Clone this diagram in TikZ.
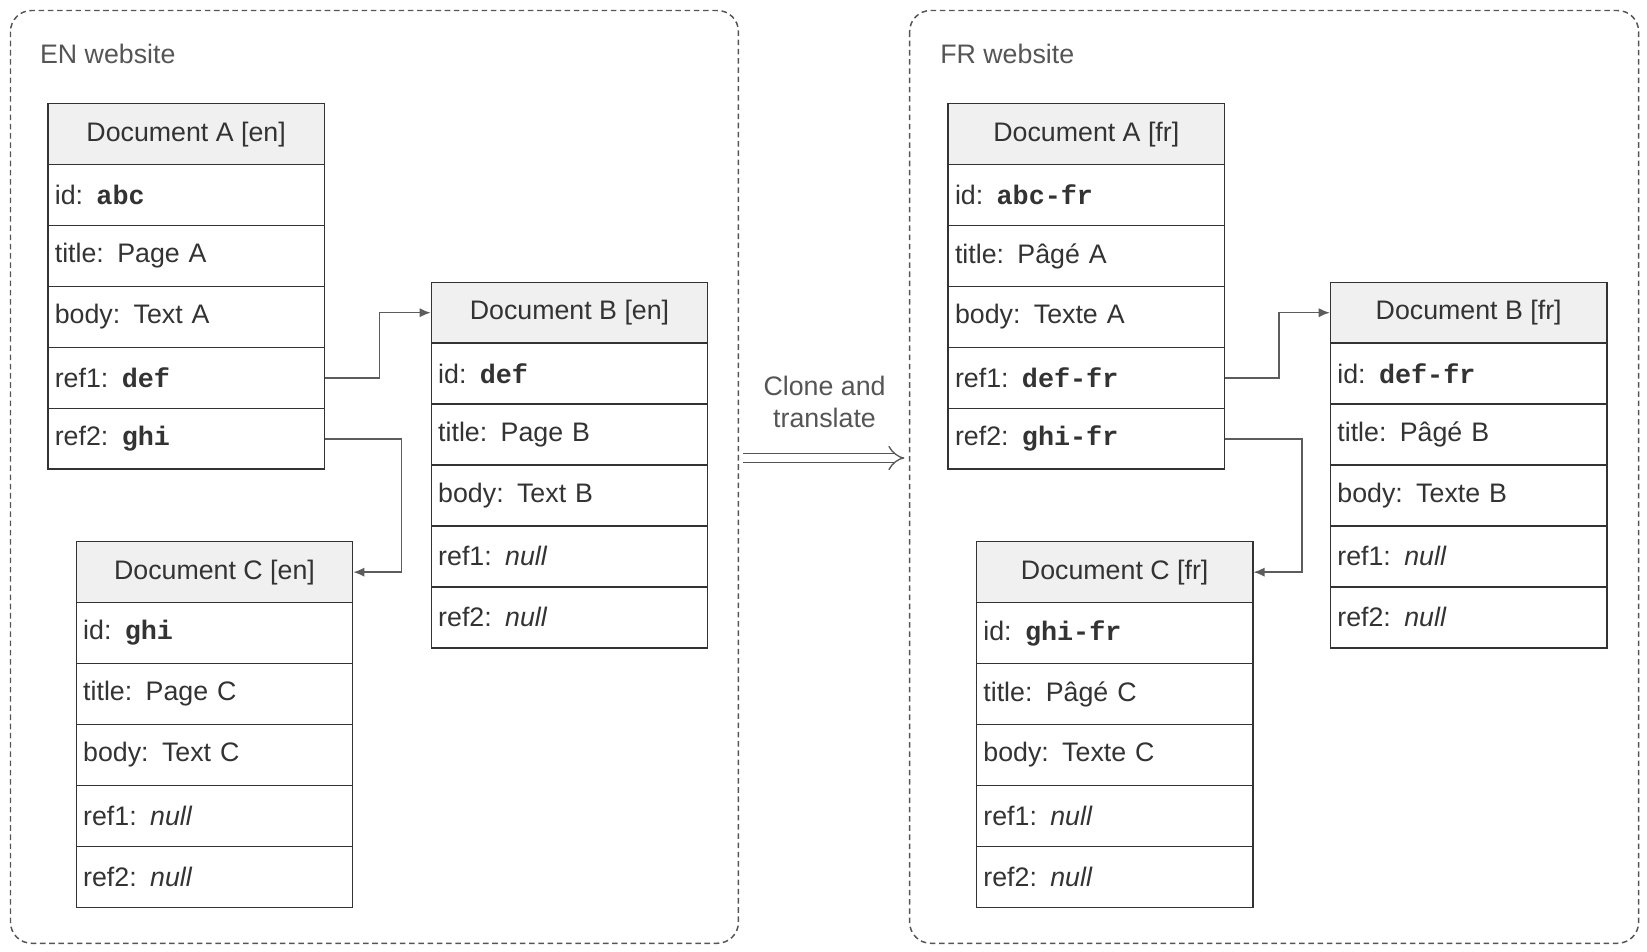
\documentclass[tikz,border=0pt]{standalone}
\usepackage{fontspec}
\setmainfont{Liberation Sans}
\newfontfamily\codefont{Liberation Mono}
\usetikzlibrary{positioning,arrows.meta}

\definecolor{ink}{HTML}{333333}
\definecolor{frame}{HTML}{555555}
\newcommand\code[1]{{\codefont\bfseries #1}}
\newcommand\nul{\textit{null}}

% one document: name, x, y (top left), title, five rows
\newcommand\docbox[5]{%
    \node[head] (#1) at (#2,#3) {#4};
    \foreach \t [count=\i] in {#5} {
        \node[row] (#1-\i) at (#2,{#3-1.16*\i}) {\t};
    }
}

\begin{document}
\begin{tikzpicture}[
    x=1cm,y=1cm,
    every node/.style={font=\fontsize{14.5}{17}\selectfont,text=ink},
    site/.style={draw=frame,densely dashed,line width=0.8pt,rounded corners=0.4cm},
    head/.style={rectangle,draw=ink,fill=gray!12,line width=0.8pt,anchor=north west,
        minimum width=5.26cm,minimum height=1.16cm,inner sep=0pt},
    row/.style={head,fill=white,text width=5.0cm,align=left},
    link/.style={draw=ink!80,line width=0.8pt,-{Latex[length=6pt,width=5pt]}},
]
\useasboundingbox (0,0) rectangle (31.36,-18.12);

%% EN website
\draw[site] (0.2,-0.2) rectangle (14.06,-17.96);
\node[anchor=west,text=frame] (en) at (0.64,-1.02) {EN website};
\docbox{A-en}{0.9}{-1.96}{Document A [en]}{{id: \code{abc}},{title: Page A},{body: Text A},{ref1: \code{def}},{ref2: \code{ghi}}}
\docbox{B-en}{8.2}{-5.36}{Document B [en]}{{id: \code{def}},{title: Page B},{body: Text B},{ref1: \nul},{ref2: \nul}}
\docbox{C-en}{1.44}{-10.3}{Document C [en]}{{id: \code{ghi}},{title: Page C},{body: Text C},{ref1: \nul},{ref2: \nul}}
\draw[link] (A-en-4.east) -- ++(1.04,0) |- (B-en.west);
\draw[link] (A-en-5.east) -- ++(1.46,0) |- (C-en.east);

%% FR website
\draw[site] (17.32,-0.2) rectangle (31.2,-17.96);
\node[anchor=west,text=frame] (fr) at (17.78,-1.02) {FR website};
\docbox{A-fr}{18.04}{-1.96}{Document A [fr]}{{id: \code{abc-fr}},{title: Pâgé A},{body: Texte A},{ref1: \code{def-fr}},{ref2: \code{ghi-fr}}}
\docbox{B-fr}{25.32}{-5.36}{Document B [fr]}{{id: \code{def-fr}},{title: Pâgé B},{body: Texte B},{ref1: \nul},{ref2: \nul}}
\docbox{C-fr}{18.58}{-10.3}{Document C [fr]}{{id: \code{ghi-fr}},{title: Pâgé C},{body: Texte C},{ref1: \nul},{ref2: \nul}}
\draw[link] (A-fr-4.east) -- ++(1.02,0) |- (B-fr.west);
\draw[link] (A-fr-5.east) -- ++(1.46,0) |- (C-fr.east);

% clone step
\node[align=center,text=frame] (clone) at (15.7,-7.65) {Clone and\\translate};
\coordinate (from) at (14.14,-8.72);
\coordinate (to) at (17.22,-8.72);
\draw[frame,line width=0.7pt,double distance=4pt,-{Implies}] (from) -- (to);
\end{tikzpicture}
\end{document}
